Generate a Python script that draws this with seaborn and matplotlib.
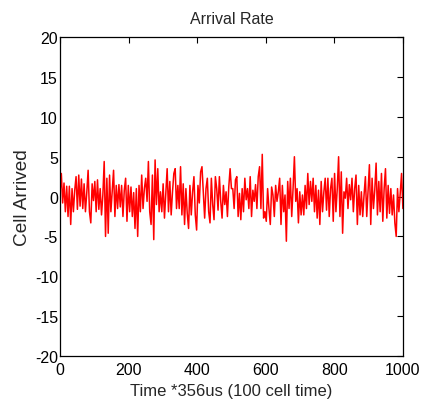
import numpy as np
import pandas as pd
import matplotlib
matplotlib.use("Agg")
import matplotlib.pyplot as plt
import seaborn as sns

# cells arrived per interval (left to right)
seg1 = [0.5, 2.9, -0.8, 1.7, -1.9, 1.3, -2.5, 1.3, -3.5, 1.0, -1.9, 0.8, 2.5, -1.6, 2.7,
        -1.2, 2.2, -1.5, 1.6, -1.9, 0.5, 3.3, -1.9, -3.3, 1.6, -0.5, 1.9, -1.9, 2.1, -1.6,
        1.0, -2.3, 0.2, 4.4, -5.0, 2.3, -4.6, 2.7, -1.9, 0.8, 3.3, -2.5, 1.4]
seg2 = [-1.5, 1.5, -1.3, 1.4, -2.5, 0.8, 2.3, -3.1, 1.4, -1.9, 1.2, -2.5, 0.5, -4.0, 1.0,
        -5.0, 1.4, -1.9, 2.7, -1.5, 1.0, 2.3, -0.6, 4.4, -1.9, -3.5, 2.7, -5.4, 4.6, -1.0,
        3.5, -1.9, 0.6, -1.9, 1.6, -2.7, 0.4, 3.5, -1.9, 1.9, -2.3, 0.6, 2.9]
seg3 = [3.5, -1.5, 1.4, -1.5, 3.75, -2.3, 1.6, -3.5, 1.0, -2.1, -4.0, 1.4, -2.3, 0.6, 2.5,
        -2.3, -4.2, 1.4, -0.8, 3.1, 3.75, 0.6, -2.7, 1.0, 2.3, -1.9, -3.3, 2.3, -1.0, -2.9,
        2.5, 1.0, -1.7, 2.5, -0.6, -2.7, 1.4, -1.0, 0.6, -2.5, 1.2, 3.5, 1.0]
seg4 = [1.0, -1.5, 2.1, 2.5, -2.5, 0.4, -2.9, 1.0, -1.9, 2.3, -0.4, 1.0, -1.5, 2.5, -2.5,
        0.8, -0.6, 1.5, -1.5, 2.5, 3.75, -1.5, 5.3, -2.7, -1.9, -3.1, 1.0, -1.5, -3.5, 1.2,
        0.2, -2.5, 1.4, -0.6, 0.6, 2.3, -3.5, 1.4, -1.9, 0.2, -5.6, 1.9, -1.5]
seg5 = [2.3, -2.5, 1.0, 5.0, -0.6, 1.0, -3.3, 0.6, -2.3, 0.2, -2.3, 1.4, -1.5, 2.9, -1.0,
        1.9, -0.6, 2.3, -1.9, 1.4, -2.7, 0.8, -3.5, 1.9, -1.9, 0.6, 2.3, -1.7, 2.3, -2.5,
        1.0, 2.3, -3.1, 2.9, -1.9, 1.0, 5.0, -2.5, 3.1, -4.6, 0.6, -0.2, 2.3]
seg6 = [-1.5, 1.5, -0.4, 2.3, -1.9, 1.0, 2.7, -3.5, 1.4, -2.3, 0.6, -2.5, 0.2, 2.5, -2.5,
        0.8, 4.0, -3.5, 2.3, -1.5, 0.8, 4.2, -2.3, 1.9, -1.9, 2.9, -3.1, 1.0, 3.5, -2.7,
        1.4, -2.1, 1.0, -2.3, 0.2, -3.3, -5.0, 1.0, -1.9, 0.4, 2.9, -1.5]

cells = seg1 + seg2 + seg3 + seg4 + seg5 + seg6
time = np.linspace(0, 1000, len(cells))
df = pd.DataFrame({"time": time, "cells": cells})

sns.set_style("white")
plt.rcParams["font.family"] = ["Liberation Sans", "DejaVu Sans"]
plt.rcParams["axes.unicode_minus"] = False

fig = plt.figure(figsize=(4.21, 4.06), dpi=100)
ax = fig.add_axes([0.1425, 0.1207, 0.8145, 0.7853])
sns.lineplot(data=df, x="time", y="cells", color="red", linewidth=1.1, ax=ax)

ax.set_xlim(0, 1000)
ax.set_ylim(-20, 20)
ax.set_xticks(np.arange(0, 1001, 200))
ax.set_yticks(np.arange(-20, 21, 5))
ax.tick_params(direction="in", top=True, right=True, length=4, width=0.8,
               labelsize=11.5, colors="black")
ax.tick_params(axis="x", pad=4.5)
ax.tick_params(axis="y", pad=1.5)
for s in ax.spines.values():
    s.set_color("black")
    s.set_linewidth(0.9)

ax.set_title("Arrival Rate", fontsize=11.5, pad=10)
ax.set_xlabel("Time *356us (100 cell time)", fontsize=12, labelpad=4)
ax.set_ylabel("Cell Arrived", fontsize=13.7, labelpad=3)

fig.savefig("out.png", dpi=100)
